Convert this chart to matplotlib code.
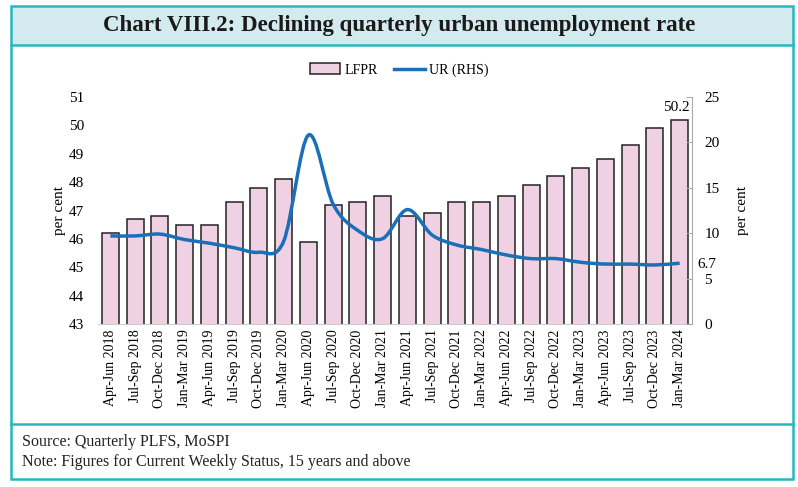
import matplotlib
matplotlib.use('Agg')
import matplotlib.pyplot as plt
from matplotlib.path import Path
from matplotlib.patches import PathPatch, Rectangle
from matplotlib.lines import Line2D
import numpy as np

plt.rcParams['font.family'] = ['Liberation Serif', 'DejaVu Serif']

quarters = ['Apr-Jun 2018', 'Jul-Sep 2018', 'Oct-Dec 2018', 'Jan-Mar 2019',
            'Apr-Jun 2019', 'Jul-Sep 2019', 'Oct-Dec 2019', 'Jan-Mar 2020',
            'Apr-Jun 2020', 'Jul-Sep 2020', 'Oct-Dec 2020', 'Jan-Mar 2021',
            'Apr-Jun 2021', 'Jul-Sep 2021', 'Oct-Dec 2021', 'Jan-Mar 2022',
            'Apr-Jun 2022', 'Jul-Sep 2022', 'Oct-Dec 2022', 'Jan-Mar 2023',
            'Apr-Jun 2023', 'Jul-Sep 2023', 'Oct-Dec 2023', 'Jan-Mar 2024']
lfpr = [46.2, 46.7, 46.8, 46.5, 46.5, 47.3, 47.8, 48.1, 45.9, 47.2, 47.3, 47.5,
        46.8, 46.9, 47.3, 47.3, 47.5, 47.9, 48.2, 48.5, 48.8, 49.3, 49.9, 50.2]
ur = [9.7, 9.7, 9.9, 9.3, 8.9, 8.4, 7.9, 9.1, 20.8, 13.2, 10.3, 9.4,
      12.6, 9.8, 8.7, 8.2, 7.6, 7.2, 7.2, 6.8, 6.6, 6.6, 6.5, 6.7]

teal = '#26b8bf'
pink = '#efd1e3'
blue = '#1a6fb8'


def smooth_path(xs, ys):
	# Excel-style smoothed line: cubic bezier through each point
	pts = np.column_stack([xs, ys]).astype(float)
	n = len(pts)
	verts = [pts[0]]
	codes = [Path.MOVETO]
	for i in range(n - 1):
		p0 = pts[max(i - 1, 0)]
		p1 = pts[i]
		p2 = pts[i + 1]
		p3 = pts[min(i + 2, n - 1)]
		c1 = p1 + (p2 - p0) / 6.0
		c2 = p2 - (p3 - p1) / 6.0
		verts += [c1, c2, p2]
		codes += [Path.CURVE4] * 3
	return Path(verts, codes)


def main():
	fig = plt.figure(figsize=(7.98, 4.87), dpi=100)

	# frame, title band and footer separator
	W, H = 798.0, 487.0
	fig.patches.append(Rectangle((11 / W, (H - 45) / H), 782 / W, 39 / H,
	                             transform=fig.transFigure, facecolor='#d3ebef',
	                             edgecolor='none', zorder=0))
	fig.patches.append(Rectangle((11 / W, (H - 479) / H), 782 / W, 473 / H,
	                             transform=fig.transFigure, facecolor='none',
	                             edgecolor=teal, linewidth=1.8, zorder=1))
	fig.lines.append(Line2D([11 / W, 793 / W], [(H - 45) / H] * 2,
	                        transform=fig.transFigure, color=teal, linewidth=1.8))
	fig.lines.append(Line2D([11 / W, 793 / W], [(H - 424) / H] * 2,
	                        transform=fig.transFigure, color=teal, linewidth=1.8))

	fig.text(0.5, (H - 26) / H, 'Chart VIII.2: Declining quarterly urban unemployment rate',
	         ha='center', va='center', fontsize=16.5, fontweight='bold', color='#1a1a1a')
	fig.text(22 / W, (H - 442) / H, 'Source: Quarterly PLFS, MoSPI',
	         ha='left', va='center', fontsize=11.5, color='#222222')
	fig.text(22 / W, (H - 462) / H, 'Note: Figures for Current Weekly Status, 15 years and above',
	         ha='left', va='center', fontsize=11.5, color='#222222')

	ax = fig.add_axes([98 / W, (H - 324) / H, 594 / W, 227 / H])
	x = np.arange(len(quarters))
	ax.bar(x, lfpr, width=0.68, color=pink, edgecolor='#222222', linewidth=1.1,
	       label='LFPR', zorder=2)
	ax.set_ylim(43, 51)
	ax.set_xlim(-0.5, len(quarters) - 0.5)
	ax.set_yticks(range(43, 52))
	ax.set_xticks(x)
	ax.set_xticklabels(quarters, rotation=90, fontsize=10)
	ax.tick_params(axis='y', length=0, labelsize=11, pad=10)
	ax.tick_params(axis='x', length=0, pad=4)
	for s in ['top', 'right', 'left']:
		ax.spines[s].set_visible(False)
	ax.spines['bottom'].set_color('#cccccc')
	ax.set_ylabel('per cent', fontsize=11, labelpad=2)
	ax.annotate('50.2', xy=(x[-1], lfpr[-1]), xytext=(-2, 4), textcoords='offset points',
	            ha='center', va='bottom', fontsize=11)

	ax2 = ax.twinx()
	ax2.set_ylim(0, 25)
	ax2.set_yticks(range(0, 26, 5))
	ax2.add_patch(PathPatch(smooth_path(x, ur), facecolor='none', edgecolor=blue,
	                        linewidth=2.5, zorder=3))
	ax2.plot([], [], color=blue, linewidth=2.5, label='UR (RHS)')
	for s in ['top', 'left', 'bottom']:
		ax2.spines[s].set_visible(False)
	ax2.spines['right'].set_color('#aaaaaa')
	ax2.tick_params(axis='y', direction='in', length=4, color='#aaaaaa',
	                labelsize=11, pad=9)
	ax2.set_ylabel('per cent', fontsize=11, labelpad=12)
	ax2.annotate('6.7', xy=(x[-1], ur[-1]), xytext=(13, -1), textcoords='offset points',
	             ha='left', va='center', fontsize=11)

	h1, l1 = ax.get_legend_handles_labels()
	h2, l2 = ax2.get_legend_handles_labels()
	fig.legend(h1 + h2, l1 + l2, loc='center', bbox_to_anchor=(0.5, (H - 70) / H),
	           ncol=2, frameon=False, fontsize=10, handlelength=2.2,
	           handleheight=0.8, columnspacing=1.2, handletextpad=0.3)

	fig.savefig('out.png', dpi=100)


if __name__ == '__main__':
	main()
